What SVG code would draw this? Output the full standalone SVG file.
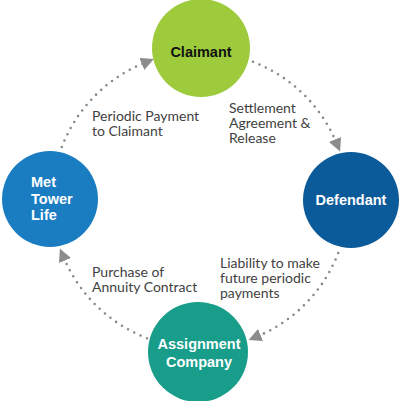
<svg xmlns="http://www.w3.org/2000/svg" width="400" height="401" viewBox="0 0 400 401">
<style>
.node{font-family:"Liberation Sans",Arial,sans-serif;font-weight:bold;font-size:14.5px}
.lbl{font-family:Lato,"Liberation Sans",sans-serif;font-size:14px;fill:#3f3f3f}
.arc{fill:none;stroke:#8a8a8a;stroke-width:2.6;stroke-linecap:round;stroke-dasharray:0 7}
</style>
<defs>
<marker id="ah" markerUnits="userSpaceOnUse" markerWidth="14" markerHeight="14" viewBox="0 0 14 14" refX="3" refY="6.5" orient="auto">
<path d="M0,0 L13,6.5 L0,13 z" fill="#8c8c8c"/>
</marker>
</defs>
<rect width="400" height="401" fill="#ffffff"/>
<g id="connectors">
<path class="arc" d="M61.8,147 A148,148 0 0 1 144.6,62.8" marker-end="url(#ah)"/>
<path class="arc" d="M253,61.8 A148,148 0 0 1 336.2,142.2" marker-end="url(#ah)"/>
<path class="arc" d="M338.2,253 A148,148 0 0 1 257.8,336.2" marker-end="url(#ah)"/>
<path class="arc" d="M147,338.2 A148,148 0 0 1 63.8,257.8" marker-end="url(#ah)"/>
</g>
<g id="claimant">
<circle cx="201" cy="48" r="49" fill="#9dcb3b"/>
<text class="node" x="201" y="57" text-anchor="middle" fill="#111">Claimant</text>
</g>
<g id="defendant">
<circle cx="351" cy="200" r="48" fill="#0b5a99"/>
<text class="node" x="351" y="205" text-anchor="middle" fill="#fff">Defendant</text>
</g>
<g id="assignment">
<circle cx="198" cy="352" r="50" fill="#179d8a"/>
<text class="node" x="199" y="349" text-anchor="middle" fill="#fff">Assignment</text>
<text class="node" x="199" y="367" text-anchor="middle" fill="#fff">Company</text>
</g>
<g id="met">
<circle cx="50" cy="199" r="48" fill="#1a7cc1"/>
<text class="node" x="31" y="187" fill="#fff">Met</text>
<text class="node" x="31" y="203.5" fill="#fff">Tower</text>
<text class="node" x="31" y="220" fill="#fff">Life</text>
</g>
<g id="labels">
<text class="lbl" x="92" y="120.5">Periodic Payment</text>
<text class="lbl" x="92" y="135.5">to Claimant</text>
<text class="lbl" x="229" y="112.5">Settlement</text>
<text class="lbl" x="229" y="127.5">Agreement &amp;</text>
<text class="lbl" x="229" y="142.5">Release</text>
<text class="lbl" x="220" y="268">Liability to make</text>
<text class="lbl" x="220" y="283">future periodic</text>
<text class="lbl" x="220" y="298">payments</text>
<text class="lbl" x="92" y="276.5">Purchase of</text>
<text class="lbl" x="92" y="291.5">Annuity Contract</text>
</g>
</svg>
